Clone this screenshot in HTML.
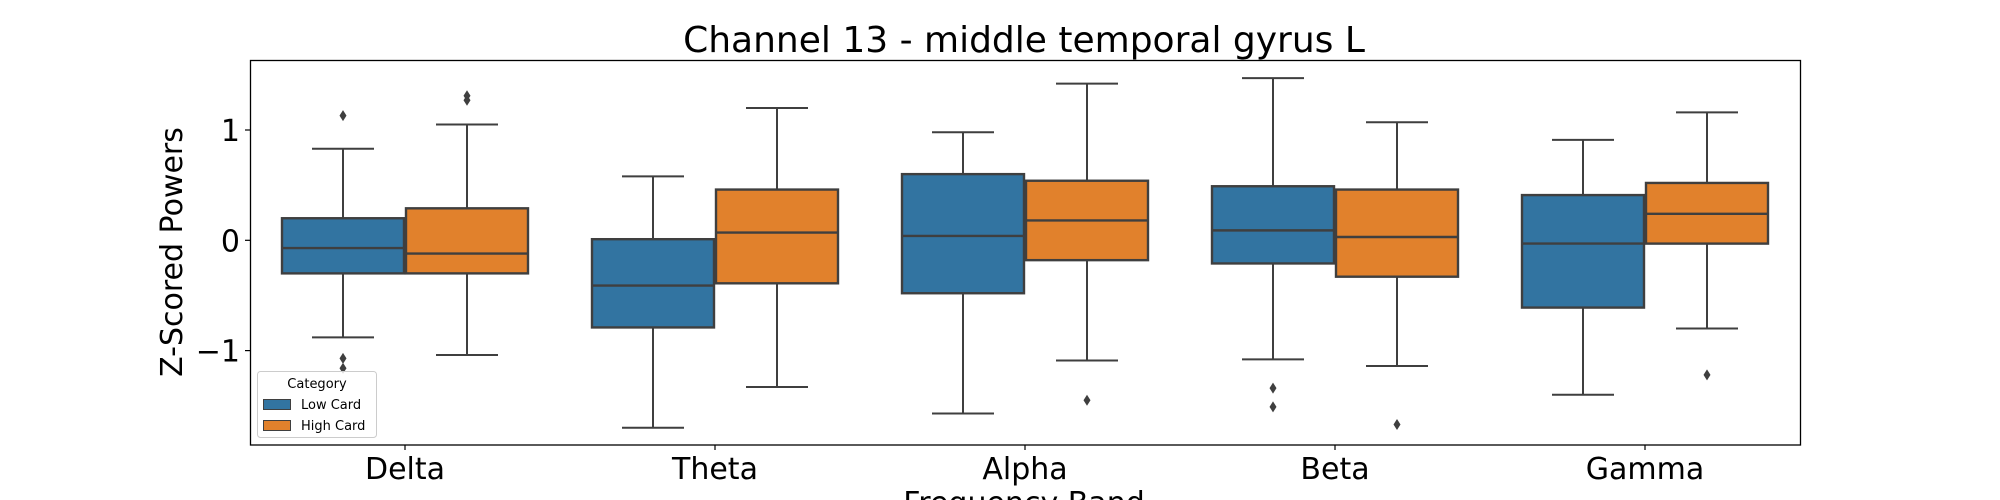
<!DOCTYPE html>
<html><head><meta charset="utf-8"><style>
html,body{margin:0;padding:0;background:#fff;}
svg{display:block;font-family:"DejaVu Sans","Liberation Sans",sans-serif;}
</style></head><body>
<svg id="chart" width="2000" height="500" viewBox="0 0 2000 500" xmlns="http://www.w3.org/2000/svg">
<rect x="0" y="0" width="2000" height="500" fill="#fff"/>
<text x="1024" y="52" font-size="36" text-anchor="middle" fill="#000">Channel 13 - middle temporal gyrus L</text>
<g id="plot"></g>
<rect x="250.5" y="60.5" width="1550" height="384.5" fill="none" stroke="#000" stroke-width="1.3"/>
<text transform="translate(182,252) rotate(-90)" font-size="30" text-anchor="middle" fill="#000">Z-Scored Powers</text>
<text x="1024" y="513" font-size="30" text-anchor="middle" fill="#000">Frequency Band</text>
<g>
<rect x="257.5" y="371.5" width="119" height="66" rx="3" fill="#fff" fill-opacity="0.8" stroke="#ccc" stroke-width="1"/>
<text x="317" y="388" font-size="13" text-anchor="middle" fill="#000">Category</text>
<rect x="263.5" y="399.5" width="27" height="10" fill="#3274a1" stroke="#3f3f3f" stroke-width="1"/>
<text x="301" y="409" font-size="13" fill="#000">Low Card</text>
<rect x="263.5" y="420.5" width="27" height="10" fill="#e1812c" stroke="#3f3f3f" stroke-width="1"/>
<text x="301" y="430" font-size="13" fill="#000">High Card</text>
</g>
</svg>
<script>
const categories=["Delta","Theta","Alpha","Beta","Gamma"];
const seriesNames=["Low Card","High Card"];
const lowWhiskerLo=[-0.88,-1.70,-1.57,-1.08,-1.40];
const lowQ1=[-0.30,-0.79,-0.48,-0.21,-0.61];
const lowMedian=[-0.07,-0.41,0.04,0.09,-0.03];
const lowQ3=[0.20,0.01,0.60,0.49,0.41];
const lowWhiskerHi=[0.83,0.58,0.98,1.47,0.91];
const lowOutliers=[[1.13,-1.07,-1.16],[],[],[-1.34,-1.51],[]];
const highWhiskerLo=[-1.04,-1.33,-1.09,-1.14,-0.80];
const highQ1=[-0.30,-0.39,-0.18,-0.33,-0.03];
const highMedian=[-0.12,0.07,0.18,0.03,0.24];
const highQ3=[0.29,0.46,0.54,0.46,0.52];
const highWhiskerHi=[1.05,1.20,1.42,1.07,1.16];
const highOutliers=[[1.31,1.27],[],[-1.45],[-1.67],[-1.22]];
const yTicks=[-1,0,1];
const yTickLabels=["\u22121","0","1"];

const NS="http://www.w3.org/2000/svg";
const L=250,R=1800;
const band=(R-L)/categories.length;
function xCat(i){return L+band*(i+0.5);}
function yVal(v){return 240.3-110.3*v;}
const plot=document.getElementById('plot');
const svg=document.getElementById('chart');
function mk(tag,attrs,parent){const e=document.createElementNS(NS,tag);for(const k in attrs)e.setAttribute(k,attrs[k]);(parent||plot).appendChild(e);return e;}

yTicks.forEach((t,i)=>{
  const y=yVal(t);
  const tk=mk('line',{x1:L-5,x2:L,y1:y,y2:y,stroke:'#000','stroke-width':1.2},svg);
  
  
  const tx=mk('text',{x:L-10,y:y+11,'font-size':30,'text-anchor':'end',fill:'#000'},svg);
  tx.textContent=yTickLabels[i];
  
  
});
categories.forEach((c,i)=>{
  const x=xCat(i);
  const tk=mk('line',{x1:x,x2:x,y1:445,y2:450,stroke:'#000','stroke-width':1.2},svg);
  
  
  const tx=mk('text',{x:x,y:479,'font-size':30,'text-anchor':'middle',fill:'#000'},svg);
  tx.textContent=c;
  
  
});

const series=[
 {name:'low-card',color:'#3274a1',lo:lowWhiskerLo,q1:lowQ1,med:lowMedian,q3:lowQ3,hi:lowWhiskerHi,out:lowOutliers,off:-1},
 {name:'high-card',color:'#e1812c',lo:highWhiskerLo,q1:highQ1,med:highMedian,q3:highQ3,hi:highWhiskerHi,out:highOutliers,off:1}
];
const bw=band*0.4;
series.forEach(s=>{
  categories.forEach((c,i)=>{
    const cx=xCat(i)+s.off*bw/2;
    const yHi=yVal(s.hi[i]),yLo=yVal(s.lo[i]),yQ1=yVal(s.q1[i]),yQ3=yVal(s.q3[i]),yMed=yVal(s.med[i]);
    const g=mk('g',{});
    
    
    const st={stroke:'#3f3f3f','stroke-width':2};
    mk('line',Object.assign({x1:cx,x2:cx,y1:yHi,y2:yQ3},st),g);
    mk('line',Object.assign({x1:cx,x2:cx,y1:yQ1,y2:yLo},st),g);
    mk('line',Object.assign({x1:cx-bw/4,x2:cx+bw/4,y1:yHi,y2:yHi},st),g);
    mk('line',Object.assign({x1:cx-bw/4,x2:cx+bw/4,y1:yLo,y2:yLo},st),g);
    mk('rect',{x:cx-bw/2+1,y:yQ3,width:bw-2,height:yQ1-yQ3,fill:s.color,stroke:'#3f3f3f','stroke-width':2.4},g);
    mk('line',{x1:cx-bw/2+1,x2:cx+bw/2-1,y1:yMed,y2:yMed,stroke:'#3f3f3f','stroke-width':2.4},g);
    s.out[i].forEach(v=>{
      const y=yVal(v);
      const d=mk('path',{d:`M${cx} ${y-5.5} L${cx+3.5} ${y} L${cx} ${y+5.5} L${cx-3.5} ${y} Z`,fill:'#3f3f3f'},g);
      
      
    });
  });
});
</script>
</body></html>
